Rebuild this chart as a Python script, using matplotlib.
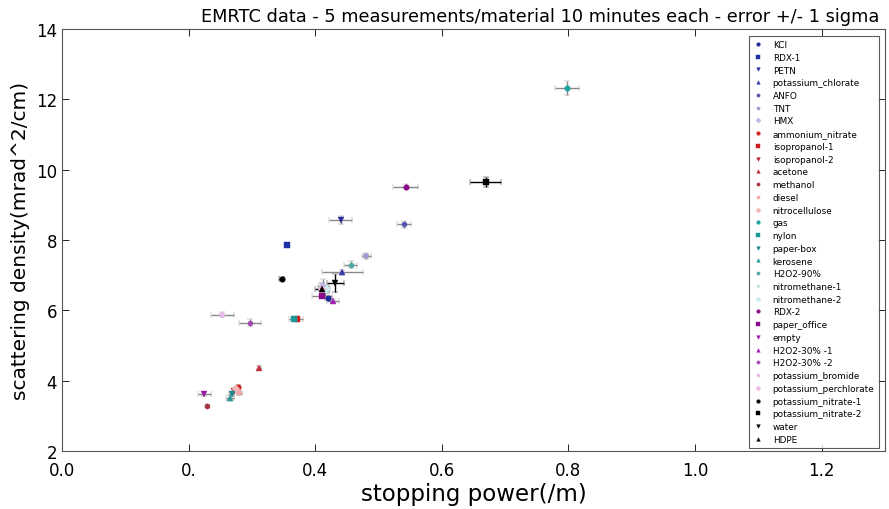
import matplotlib
matplotlib.use("Agg")
import matplotlib.pyplot as plt
from matplotlib.lines import Line2D

# Materials, grouped in blocks of seven (one colour family per block)
materials = [
    "KCl", "RDX-1", "PETN", "potassium_chlorate", "ANFO", "TNT", "HMX",
    "ammonium_nitrate", "isopropanol-1", "isopropanol-2", "acetone", "methanol", "diesel", "nitrocellulose",
    "gas", "nylon", "paper-box", "kerosene", "H2O2-90%", "nitromethane-1", "nitromethane-2",
    "RDX-2", "paper_office", "empty", "H2O2-30% -1", "H2O2-30% -2", "potassium_bromide", "potassium_perchlorate",
    "potassium_nitrate-1", "potassium_nitrate-2", "water", "HDPE",
]

# stopping power (/m) and its 1-sigma error
stopping = [
    0.420, 0.356, 0.440, 0.443, 0.540, 0.481, 0.413,
    0.278, 0.372, 0.272, 0.312, 0.229, 0.280, 0.275,
    0.797, 0.366, 0.268, 0.265, 0.456, 0.415, 0.418,
    0.543, 0.411, 0.225, 0.428, 0.297, 0.253, 0.410,
    0.347, 0.669, 0.432, 0.410,
]
stopping_err = [
    0.004, 0.003, 0.018, 0.033, 0.011, 0.007, 0.008,
    0.003, 0.008, 0.004, 0.003, 0.002, 0.004, 0.003,
    0.019, 0.008, 0.004, 0.006, 0.010, 0.006, 0.005,
    0.020, 0.016, 0.010, 0.010, 0.018, 0.018, 0.006,
    0.004, 0.025, 0.013, 0.010,
]

# scattering density (mrad^2/cm) and its 1-sigma error
scattering = [
    6.35, 7.85, 8.57, 7.08, 8.45, 7.55, 6.68,
    3.82, 5.75, 3.70, 4.37, 3.28, 3.65, 3.75,
    12.32, 5.75, 3.62, 3.50, 7.30, 6.55, 6.60,
    9.52, 6.40, 3.62, 6.27, 5.65, 5.88, 6.62,
    6.90, 9.65, 6.78, 6.60,
]
scattering_err = [
    0.05, 0.05, 0.10, 0.06, 0.10, 0.08, 0.20,
    0.05, 0.05, 0.05, 0.04, 0.04, 0.05, 0.04,
    0.20, 0.05, 0.05, 0.08, 0.10, 0.15, 0.10,
    0.08, 0.06, 0.06, 0.05, 0.10, 0.06, 0.08,
    0.05, 0.14, 0.26, 0.18,
]

x_ticks = [0.0, 0.2, 0.4, 0.6, 0.8, 1.0, 1.2]
x_tick_labels = ["0.0", "0.", "0.4", "0.6", "0.8", "1.0", "1.2"]
y_ticks = [2, 4, 6, 8, 10, 12, 14]

colors = [
    "#1c2a9c", "#1f2fa8", "#2c2c9a", "#3a3aa8", "#5454b0", "#9a9ad0", "#b8b8e4",
    "#d42020", "#cc1c1c", "#c0202e", "#c03040", "#a83040", "#f2a8a8", "#f2b8b8",
    "#1fa3a0", "#1c9a9a", "#1c8a8a", "#2c9a98", "#4aa8a8", "#bfe6e6", "#c8ecec",
    "#8c0a8c", "#8c0a8c", "#9a1aa6", "#a020b0", "#a04ab0", "#e8b8e8", "#f0b8e0",
    "#000000", "#000000", "#000000", "#000000",
]
markers = ["o", "s", "v", "^", "h", "p", "D"]

plt.rcParams["font.family"] = "DejaVu Sans"
plt.rcParams["xtick.direction"] = "in"
plt.rcParams["ytick.direction"] = "in"
plt.rcParams["xtick.top"] = True
plt.rcParams["ytick.right"] = True

fig = plt.figure(figsize=(8.89, 5.10), dpi=100)
ax = fig.add_axes([0.0697, 0.1137, 0.9258, 0.8273])

handles = []
for i, name in enumerate(materials):
    mk = markers[i % 7] if i < 28 else ["o", "s", "v", "^"][i - 28]
    ecol = "black" if i >= 28 else "#8a8a8a"
    ax.errorbar(stopping[i], scattering[i], xerr=stopping_err[i], yerr=scattering_err[i],
                fmt=mk, color=colors[i], ecolor=ecol, elinewidth=1.0, capsize=2,
                markersize=4, markeredgewidth=0.3, markeredgecolor=colors[i])
    handles.append(Line2D([], [], linestyle="none", marker=mk, color=colors[i],
                          markersize=2.6, markeredgewidth=0.3, label=name))

ax.set_xlim(0.0, 1.3)
ax.set_ylim(2, 14)
ax.set_xticks(x_ticks)
ax.set_xticklabels(x_tick_labels)
ax.set_yticks(y_ticks)
ax.tick_params(labelsize=12, length=5, width=0.6)
ax.tick_params(axis="x", pad=7)
for s in ax.spines.values():
    s.set_color("#555555")
    s.set_linewidth(0.8)

ax.set_xlabel("stopping power(/m)", fontsize=16.5, labelpad=2)
ax.set_ylabel("scattering density(mrad^2/cm)", fontsize=14.5)
ax.set_title("EMRTC data - 5 measurements/material 10 minutes each - error +/- 1 sigma",
             fontsize=12.8, x=0.581, pad=6)

leg = ax.legend(handles=handles, loc="upper right", fontsize=6.4, numpoints=1,
                labelspacing=0.42, handlelength=1.0, handletextpad=1.2,
                fancybox=False, edgecolor="#333333",
                bbox_to_anchor=(0.998, 0.995), borderpad=0.5)
leg.get_frame().set_linewidth(0.8)

fig.savefig("out.png", dpi=100)
